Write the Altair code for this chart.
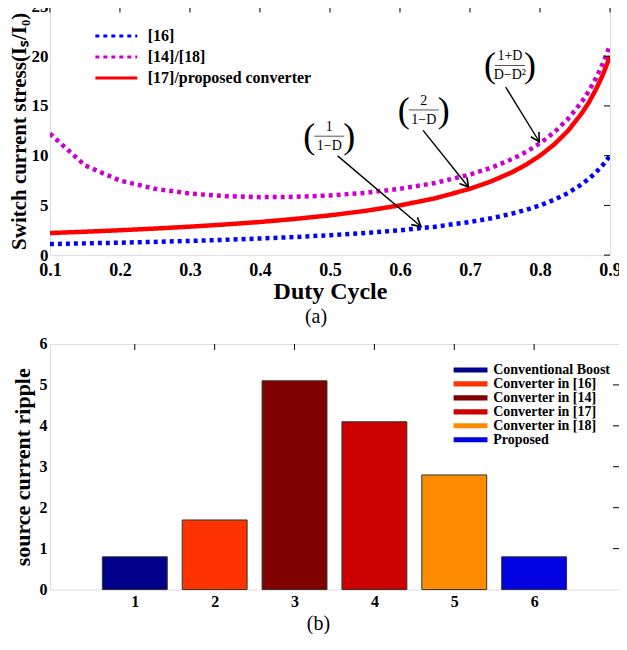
import altair as alt
import pandas as pd

FONT = "Liberation Serif"

# ---------------- (a) switch current stress ----------------
duty = [0.10, 0.15, 0.20, 0.25, 0.30, 0.35, 0.40, 0.45, 0.50, 0.55, 0.60, 0.65,
        0.70, 0.73, 0.76, 0.78, 0.80, 0.82, 0.84, 0.86, 0.87, 0.88, 0.89, 0.90]
stress_16 = [1.11, 1.18, 1.25, 1.33, 1.43, 1.54, 1.67, 1.82, 2.00, 2.22, 2.50, 2.86,
             3.33, 3.70, 4.17, 4.55, 5.00, 5.56, 6.25, 7.14, 7.69, 8.33, 9.09, 10.00]
stress_14_18 = [12.22, 9.02, 7.50, 6.67, 6.19, 5.93, 5.83, 5.86, 6.00, 6.26, 6.67, 7.25,
                8.10, 8.78, 9.65, 10.37, 11.25, 12.33, 13.69, 15.45, 16.53, 17.80, 19.31, 21.11]
stress_17_prop = [2.22, 2.35, 2.50, 2.67, 2.86, 3.08, 3.33, 3.64, 4.00, 4.44, 5.00, 5.71,
                  6.67, 7.41, 8.33, 9.09, 10.00, 11.11, 12.50, 14.29, 15.38, 16.67, 18.18, 20.00]
series_names = ["[16]", "[14]/[18]", "[17]/proposed converter"]
series_colors = ["#0000FF", "#CC00CC", "#FF0000"]

x_ticks_a = [0.1, 0.2, 0.3, 0.4, 0.5, 0.6, 0.7, 0.8, 0.9]
y_ticks_a = [0, 5, 10, 15, 20, 25]

# annotations (formula labels and arrows)
label_d = [0.499, 0.634, 0.757]
label_v = [11.96, 14.6, 19.07]
numerators = ["1", "2", "1+D"]
denominators = ["1\u2212D", "1\u2212D", "D\u2212D\u00b2"]
arrow_d0 = [0.511, 0.633, 0.751]
arrow_v0 = [9.98, 12.55, 16.9]
arrow_d1 = [0.630, 0.698, 0.799]
arrow_v1 = [2.87, 6.82, 11.4]
arrow_angle = [40, 52, 59]

# ---------------- (b) source current ripple ----------------
bar_pos = [1, 2, 3, 4, 5, 6]
ripple = [0.8, 1.7, 5.1, 4.1, 2.8, 0.8]
converter_names = ["Conventional Boost", "Converter in [16]", "Converter in [14]",
                   "Converter in [17]", "Converter in [18]", "Proposed"]
bar_colors = ["#00008B", "#FF3300", "#800000", "#CC0000", "#FF8C00", "#0000E0"]
x_ticks_b = [1, 2, 3, 4, 5, 6]
y_ticks_b = [0, 1, 2, 3, 4, 5, 6]

# ---------------- build (a) ----------------
W1, H1 = 561, 249
rows = []
for name, vals in zip(series_names, [stress_16, stress_14_18, stress_17_prop]):
    for d, v in zip(duty, vals):
        rows.append({"D": d, "value": v, "series": name})
curves = pd.DataFrame(rows)

xs_a = alt.Scale(domain=[0.1, 0.9], nice=False, zero=False)
ys_a = alt.Scale(domain=[0, 25], nice=False)

legend_a = dict(title=None, orient="none", legendX=44, legendY=21,
                symbolType="M-1,0H5", symbolSize=196, symbolStrokeWidth=3,
                labelOffset=37, labelFont=FONT, labelFontSize=16, labelLimit=400,
                labelFontWeight="bold", labelColor="black", rowPadding=4, padding=0)

lines = alt.Chart(curves).mark_line(clip=True).encode(
    x=alt.X("D:Q", scale=xs_a,
            axis=alt.Axis(values=x_ticks_a, format=".1f", title="Duty Cycle",
                          labelFont=FONT, labelFontSize=18, labelFontWeight="bold",
                          labelColor="black", labelPadding=6, ticks=False,
                          titleFont=FONT, titleFontSize=24, titleFontWeight="bold",
                          titleColor="black", titlePadding=0, domain=False, grid=False,
                          labelFlush=False)),
    y=alt.Y("value:Q", scale=ys_a,
            axis=alt.Axis(values=y_ticks_a, title="Switch current stress(I\u209b/I\u2080)",
                          labelFont=FONT, labelFontSize=17, labelFontWeight="bold",
                          labelColor="black", labelPadding=2, ticks=False,
                          titleFont=FONT, titleFontSize=21, titleFontWeight="bold",
                          titleColor="black", titlePadding=1, domain=False, grid=False,
                          labelFlush=False)),
    color=alt.Color("series:N", scale=alt.Scale(domain=series_names, range=series_colors),
                    legend=alt.Legend(**legend_a)),
    strokeDash=alt.StrokeDash("series:N",
                              scale=alt.Scale(domain=series_names, range=[[4, 4], [4, 4], [1, 0]]),
                              legend=alt.Legend(**legend_a)),
    strokeWidth=alt.StrokeWidth("series:N",
                                scale=alt.Scale(domain=series_names, range=[4.5, 4.5, 3.8]),
                                legend=None),
)

ticks_top_a = alt.Chart(pd.DataFrame({"D": x_ticks_a})).mark_rule(color="black", strokeWidth=1).encode(
    x=alt.X("D:Q", scale=xs_a), y=alt.value(0), y2=alt.value(6))
ticks_right_a = alt.Chart(pd.DataFrame({"value": y_ticks_a})).mark_rule(color="black", strokeWidth=1).encode(
    y=alt.Y("value:Q", scale=ys_a), x=alt.value(W1), x2=alt.value(W1 - 6))

ann = pd.DataFrame({"D": label_d, "value": label_v, "num": numerators, "den": denominators,
                    "D0": arrow_d0, "V0": arrow_v0, "D1": arrow_d1, "V1": arrow_v1,
                    "angle": arrow_angle})

arrows = alt.Chart(ann).mark_rule(color="black", strokeWidth=1.4).encode(
    x=alt.X("D0:Q", scale=xs_a), y=alt.Y("V0:Q", scale=ys_a),
    x2="D1:Q", y2="V1:Q")
heads = alt.Chart(ann).mark_point(shape="M-1,-0.55L0,0L-1,0.55", filled=False,
                                  color="black", strokeWidth=1.6, size=300, opacity=1).encode(
    x=alt.X("D1:Q", scale=xs_a), y=alt.Y("V1:Q", scale=ys_a),
    angle=alt.Angle("angle:Q", scale=None))
num_text = alt.Chart(ann).mark_text(font=FONT, fontSize=14, dy=-9, color="black").encode(
    x=alt.X("D:Q", scale=xs_a), y=alt.Y("value:Q", scale=ys_a), text="num:N")
den_text = alt.Chart(ann).mark_text(font=FONT, fontSize=14, dy=10, color="black").encode(
    x=alt.X("D:Q", scale=xs_a), y=alt.Y("value:Q", scale=ys_a), text="den:N")
frac_bar = alt.Chart(ann).mark_tick(orient="horizontal", thickness=1, size=30, color="#555555",
                                    opacity=1).encode(
    x=alt.X("D:Q", scale=xs_a), y=alt.Y("value:Q", scale=ys_a))
lparen = alt.Chart(ann).mark_text(font=FONT, fontSize=36, dx=-20, dy=1, text="(",
                                  color="black", fontWeight=200).encode(
    x=alt.X("D:Q", scale=xs_a), y=alt.Y("value:Q", scale=ys_a))
rparen = alt.Chart(ann).mark_text(font=FONT, fontSize=36, dx=20, dy=1, text=")",
                                  color="black", fontWeight=200).encode(
    x=alt.X("D:Q", scale=xs_a), y=alt.Y("value:Q", scale=ys_a))

chart_a = alt.layer(lines, ticks_top_a, ticks_right_a, arrows, heads, frac_bar,
                    num_text, den_text, lparen, rparen).properties(
    width=W1, height=H1,
    title=alt.TitleParams("(a)", orient="bottom", font=FONT, fontSize=20,
                          fontWeight="normal", color="black", offset=4, dx=-14),
)

# ---------------- build (b) ----------------
W2, H2 = 570, 246
bars_df = pd.DataFrame({"pos": bar_pos, "ripple": ripple, "name": converter_names})
xs_b = alt.Scale(domain=[0, 7], nice=False)
ys_b = alt.Scale(domain=[0, 6], nice=False)

bars = alt.Chart(bars_df).mark_bar(size=65, stroke="#333333", strokeWidth=1).encode(
    x=alt.X("pos:Q", scale=xs_b,
            axis=alt.Axis(values=x_ticks_b, title=None, format="d",
                          labelFont=FONT, labelFontSize=16, labelFontWeight="bold",
                          labelColor="black", labelPadding=4, ticks=False,
                          domain=False, grid=False)),
    y=alt.Y("ripple:Q", scale=ys_b,
            axis=alt.Axis(values=y_ticks_b, title="source current ripple", format="d",
                          labelFont=FONT, labelFontSize=16, labelFontWeight="bold",
                          labelColor="black", labelPadding=3, ticks=False,
                          titleFont=FONT, titleFontSize=22, titleFontWeight="bold",
                          titleColor="black", titlePadding=4, domain=False, grid=False,
                          labelFlush=False)),
    fill=alt.Fill("name:N", scale=alt.Scale(domain=converter_names, range=bar_colors),
                  legend=alt.Legend(title=None, orient="none", legendX=403, legendY=19,
                                    symbolType="M-1,-0.45H5V0.45H-1Z", symbolSize=128,
                                    symbolStrokeWidth=0, symbolOpacity=1, labelOffset=27,
                                    labelFont=FONT, labelFontSize=14, labelFontWeight="bold",
                                    labelColor="black", labelLimit=400, rowPadding=-2,
                                    padding=0)),
)
ticks_top_b = alt.Chart(pd.DataFrame({"pos": x_ticks_b})).mark_rule(color="black", strokeWidth=1).encode(
    x=alt.X("pos:Q", scale=xs_b), y=alt.value(0), y2=alt.value(6))
ticks_right_b = alt.Chart(pd.DataFrame({"ripple": y_ticks_b[1:-1]})).mark_rule(color="black", strokeWidth=1).encode(
    y=alt.Y("ripple:Q", scale=ys_b), x=alt.value(W2), x2=alt.value(W2 - 6))

chart_b = alt.layer(bars, ticks_top_b, ticks_right_b).properties(
    width=W2, height=H2,
    title=alt.TitleParams("(b)", orient="bottom", font=FONT, fontSize=20,
                          fontWeight="normal", color="black", offset=5, dx=-16),
)

chart = alt.vconcat(chart_a, chart_b, spacing=7).resolve_legend(
    color="independent", strokeDash="independent", fill="independent"
).properties(
    padding={"left": 0, "top": -12, "right": -3, "bottom": -2}
).configure_view(stroke="black", strokeWidth=1.5).configure(background="white")

chart.save("out.html", embed_options={"renderer": "svg", "actions": False})
